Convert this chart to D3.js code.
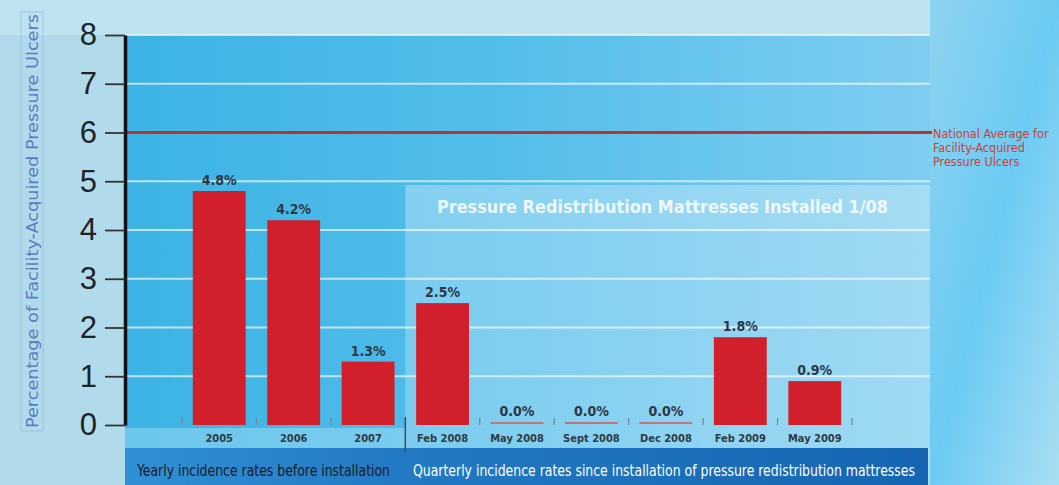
<!DOCTYPE html>
<html>
  <head>
    <title>Facility-Acquired Pressure Ulcers</title>
    <script src="https://d3js.org/d3.v7.min.js"></script>
    <style>
      body { margin: 0; background: #b3dcea; }
      svg { display: block; }
    </style>
  </head>
  <body>
    <div id="chart"></div>
    <script>
// Data
const categories = ["2005", "2006", "2007", "Feb 2008", "May 2008", "Sept 2008", "Dec 2008", "Feb 2009", "May 2009"];
const values = [4.8, 4.2, 1.3, 2.5, 0.0, 0.0, 0.0, 1.8, 0.9];
const yTicks = [0, 1, 2, 3, 4, 5, 6, 7, 8];
const nationalAverage = 6;
const nationalLabel = ["National Average for", "Facility-Acquired", "Pressure Ulcers"];
const groupLabels = ["Yearly incidence rates before installation",
  "Quarterly incidence rates since installation of pressure redistribution mattresses"];
const groupStart = [0, 3];   // index of first category in each group
const bannerText = "Pressure Redistribution Mattresses Installed 1/08";
const yTitle = "Percentage of Facility-Acquired Pressure Ulcers";

// Dimensions
const width = 1059;
const height = 485;
const plotLeft = 125;
const plotRight = 930;
const plotTop = 35;
const baseY = 425;
const narrow = "'Liberation Sans Narrow', 'DejaVu Sans Condensed', 'Roboto Condensed', sans-serif";

function createChart() {
  const x = d3.scaleBand()
    .domain(categories)
    .range([182, 852])
    .paddingInner(0.29)
    .paddingOuter(0.145);

  const y = d3.scaleLinear()
    .domain([0, 8])
    .range([baseY, plotTop]);

  const svg = d3.select("#chart").append("svg")
    .attr("width", width)
    .attr("height", height)
    .attr("viewBox", [0, 0, width, height]);

  const defs = svg.append("defs");
  const g1 = defs.append("linearGradient").attr("id", "plotBg")
    .attr("x1", 0).attr("x2", 1).attr("y1", 0).attr("y2", 0);
  g1.append("stop").attr("offset", "0%").attr("stop-color", "#3cb3e4");
  g1.append("stop").attr("offset", "45%").attr("stop-color", "#52bdea");
  g1.append("stop").attr("offset", "100%").attr("stop-color", "#7fcdf0");

  const g2 = defs.append("linearGradient").attr("id", "rightBg")
    .attr("x1", 0).attr("x2", 1).attr("y1", 0).attr("y2", 1);
  g2.append("stop").attr("offset", "0%").attr("stop-color", "#8ed3ef");
  g2.append("stop").attr("offset", "50%").attr("stop-color", "#6ccaf2");
  g2.append("stop").attr("offset", "100%").attr("stop-color", "#a9def2");

  const g3 = defs.append("linearGradient").attr("id", "bandBg")
    .attr("x1", 0).attr("x2", 1).attr("y1", 0).attr("y2", 0);
  g3.append("stop").attr("offset", "0%").attr("stop-color", "#3091d6");
  g3.append("stop").attr("offset", "35%").attr("stop-color", "#2379c4");
  g3.append("stop").attr("offset", "100%").attr("stop-color", "#1565b2");

  // Backgrounds
  svg.append("rect").attr("x", 0).attr("y", 0).attr("width", width).attr("height", height)
    .attr("fill", "#b1dbea");
  svg.append("rect").attr("x", 0).attr("y", 0).attr("width", width).attr("height", plotTop)
    .attr("fill", "#bce3ee");
  svg.append("rect").attr("x", plotRight).attr("y", 0).attr("width", width - plotRight).attr("height", height)
    .attr("fill", "url(#rightBg)");
  svg.append("rect").attr("x", plotLeft).attr("y", plotTop)
    .attr("width", plotRight - plotLeft).attr("height", 448 - plotTop)
    .attr("fill", "url(#plotBg)");

  const divX = x(categories[groupStart[1]]) - x.step() * x.paddingInner() / 2;

  // lighter area after installation
  svg.append("rect").attr("x", divX).attr("y", 185)
    .attr("width", plotRight - divX).attr("height", 448 - 185)
    .attr("fill", "#ffffff").attr("opacity", 0.26);
  svg.append("rect").attr("x", divX).attr("y", 185)
    .attr("width", plotRight - divX).attr("height", 47)
    .attr("fill", "#ffffff").attr("opacity", 0.07);
  // light strip under baseline
  svg.append("rect").attr("x", plotLeft).attr("y", baseY + 3)
    .attr("width", divX - plotLeft).attr("height", 448 - baseY - 3)
    .attr("fill", "#ffffff").attr("opacity", 0.25);

  // Gridlines
  svg.append("g")
    .selectAll("line")
    .data(yTicks.filter(d => d > 0))
    .join("line")
    .attr("x1", plotLeft)
    .attr("x2", plotRight)
    .attr("y1", d => y(d))
    .attr("y2", d => y(d))
    .attr("stroke", "#ffffff")
    .attr("stroke-opacity", 0.65)
    .attr("stroke-width", 2);

  // Banner
  svg.append("text")
    .attr("x", 437)
    .attr("y", 213)
    .attr("textLength", 451)
    .attr("lengthAdjust", "spacingAndGlyphs")
    .style("font-family", narrow)
    .style("font-weight", "bold")
    .style("font-size", "17px")
    .attr("fill", "#ffffff")
    .attr("fill-opacity", 0.85)
    .text(bannerText);

  // National average line
  svg.append("line")
    .attr("x1", plotLeft)
    .attr("x2", plotRight + 2)
    .attr("y1", y(nationalAverage))
    .attr("y2", y(nationalAverage))
    .attr("stroke", "#b9342c")
    .attr("stroke-width", 3);

  svg.append("g")
    .selectAll("text")
    .data(nationalLabel)
    .join("text")
    .attr("x", 933)
    .attr("y", (d, i) => y(nationalAverage) + 5 + i * 14)
    .style("font-family", narrow)
    .style("font-size", "12.5px")
    .attr("fill", "#c8413a")
    .text(d => d);

  // Bars
  svg.append("g")
    .selectAll("rect")
    .data(values)
    .join("rect")
    .attr("x", (d, i) => x(categories[i]))
    .attr("y", d => y(d))
    .attr("width", x.bandwidth())
    .attr("height", d => y(0) - y(d))
    .attr("fill", "#d21f2c");

  // zero bars drawn as thin lines
  svg.append("g")
    .selectAll("line")
    .data(values.map((v, i) => ({ v, c: categories[i] })).filter(d => d.v === 0))
    .join("line")
    .attr("x1", d => x(d.c))
    .attr("x2", d => x(d.c) + x.bandwidth())
    .attr("y1", y(0) - 2)
    .attr("y2", y(0) - 2)
    .attr("stroke", "#d8545a")
    .attr("stroke-width", 1.5);

  // Value labels
  svg.append("g")
    .selectAll("text")
    .data(values)
    .join("text")
    .attr("x", (d, i) => x(categories[i]) + x.bandwidth() / 2)
    .attr("y", d => y(d) - (d === 0 ? 9 : 6))
    .attr("text-anchor", "middle")
    .style("font-family", narrow)
    .style("font-weight", "bold")
    .style("font-size", "14px")
    .attr("fill", "#2b3846")
    .text(d => d.toFixed(1) + "%");

  // Category separators
  const bounds = categories.map(c => x(c) - x.step() * x.paddingInner() / 2)
    .concat([x(categories[categories.length - 1]) + x.bandwidth() + x.step() * x.paddingInner() / 2]);
  svg.append("g")
    .selectAll("line")
    .data(bounds)
    .join("line")
    .attr("x1", d => d).attr("x2", d => d)
    .attr("y1", baseY - 7).attr("y2", baseY)
    .attr("stroke", "#6f8794")
    .attr("stroke-width", 1.2);

  // Category labels
  svg.append("g")
    .selectAll("text")
    .data(categories)
    .join("text")
    .attr("x", d => x(d) + x.bandwidth() / 2)
    .attr("y", 442)
    .attr("text-anchor", "middle")
    .style("font-family", narrow)
    .style("font-weight", "bold")
    .style("font-size", "11px")
    .attr("fill", "#2e3a44")
    .text(d => d);

  // Bottom band
  svg.append("rect")
    .attr("x", plotLeft).attr("y", 448)
    .attr("width", 928 - plotLeft).attr("height", height - 448)
    .attr("fill", "url(#bandBg)");

  svg.append("line")
    .attr("x1", divX).attr("x2", divX)
    .attr("y1", baseY - 8).attr("y2", 452)
    .attr("stroke", "#3d4e5c")
    .attr("stroke-width", 1.5);

  const groupX = [137, 413];
  const groupW = [253, 502];
  const groupColor = ["#151a22", "#ffffff"];
  svg.append("g")
    .selectAll("text")
    .data(groupLabels)
    .join("text")
    .attr("x", (d, i) => groupX[i])
    .attr("y", 476)
    .attr("textLength", (d, i) => groupW[i])
    .attr("lengthAdjust", "spacingAndGlyphs")
    .style("font-family", narrow)
    .style("font-size", "16.5px")
    .attr("fill", (d, i) => groupColor[i])
    .text(d => d);

  // Y axis
  const yAxis = svg.append("g")
    .attr("transform", `translate(${plotLeft},0)`)
    .call(d3.axisLeft(y).tickValues(yTicks).tickSize(20).tickSizeOuter(0).tickPadding(8));
  yAxis.select(".domain")
    .attr("stroke", "#111111")
    .attr("stroke-width", 3.5);
  yAxis.selectAll(".tick line")
    .attr("stroke", "#333333")
    .attr("stroke-width", 1.8);
  yAxis.selectAll(".tick text")
    .style("font-family", "'Liberation Sans', Arial, sans-serif")
    .style("font-size", "31px")
    .attr("fill", "#1e2428");

  // Y axis title
  svg.append("rect")
    .attr("x", 21).attr("y", 12).attr("width", 22).attr("height", 419)
    .attr("fill", "none")
    .attr("stroke", "#7f9fd6")
    .attr("stroke-opacity", 0.5)
    .attr("stroke-width", 0.8);
  svg.append("text")
    .attr("transform", "rotate(-90)")
    .attr("x", -221)
    .attr("y", 38)
    .attr("text-anchor", "middle")
    .attr("textLength", 414)
    .attr("lengthAdjust", "spacingAndGlyphs")
    .style("font-family", narrow)
    .style("font-size", "16px")
    .attr("fill", "#5a7dc4")
    .text(yTitle);
}

createChart();
    </script>
  </body>
</html>
